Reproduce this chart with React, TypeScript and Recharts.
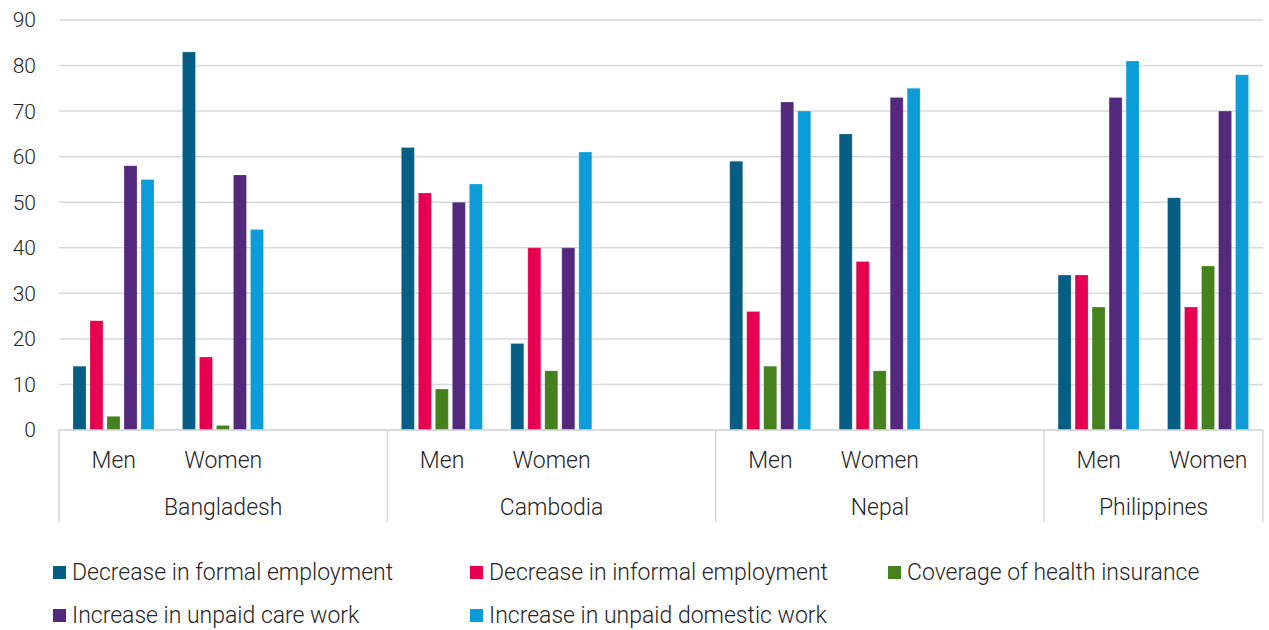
import { Bar, BarChart, XAxis, YAxis, CartesianGrid, Legend } from "recharts"

const countries = ["Bangladesh", "Cambodia", "Nepal", "Philippines"]
const sexes = ["Men", "Women"]

// order: Bangladesh M/W, Cambodia M/W, Nepal M/W, Philippines M/W
const formal = [14, 83, 62, 19, 59, 65, 34, 51]
const informal = [24, 16, 52, 40, 26, 37, 34, 27]
const health = [3, 1, 9, 13, 14, 13, 27, 36]
const care = [58, 56, 50, 40, 72, 73, 73, 70]
const domestic = [55, 44, 54, 61, 70, 75, 81, 78]

const yTicks = [0, 10, 20, 30, 40, 50, 60, 70, 80, 90]

const SERIES = [
  { key: "formal", name: "Decrease in formal employment", color: "#075e84" },
  { key: "informal", name: "Decrease in informal employment", color: "#e6004f" },
  { key: "health", name: "Coverage of health insurance", color: "#45821e" },
  { key: "care", name: "Increase in unpaid care work", color: "#53297c" },
  { key: "domestic", name: "Increase in unpaid domestic work", color: "#0c9dd9" },
]

type Row = {
  sub: string
  country: string
  groupStart: boolean
  groupSize: number
  formal: number | null
  informal: number | null
  health: number | null
  care: number | null
  domestic: number | null
}

// each country gets Men, Women and an empty slot (except the last one)
const rows: Row[] = []
countries.forEach((country, ci) => {
  const isLast = ci === countries.length - 1
  const size = isLast ? 2 : 3
  sexes.forEach((sub, si) => {
    const k = ci * 2 + si
    rows.push({
      sub,
      country,
      groupStart: si === 0,
      groupSize: size,
      formal: formal[k],
      informal: informal[k],
      health: health[k],
      care: care[k],
      domestic: domestic[k],
    })
  })
  if (!isLast) {
    rows.push({
      sub: "",
      country,
      groupStart: false,
      groupSize: size,
      formal: null,
      informal: null,
      health: null,
      care: null,
      domestic: null,
    })
  }
})

const W = 1269
const H = 630
const Y_AXIS_W = 59
const MARGIN = { top: 20, right: 6, left: 0, bottom: 0 }
const PLOT_W = W - Y_AXIS_W - MARGIN.right
const TEXT = "#262626"
const GRID = "#d9d9d9"
const FONT = "Roboto, sans-serif"
const LABEL_SIZE = 23

function XTick(props: any) {
  const { x, y, payload } = props
  const i = payload.index
  const row = rows[i]
  const band = PLOT_W / rows.length
  const lineH = 92
  return (
    <g>
      {row.sub && (
        <text x={x} y={y + 38} textAnchor="middle" fill={TEXT} fontSize={LABEL_SIZE} fontWeight={300} fontFamily={FONT}>
          {row.sub}
        </text>
      )}
      {row.groupStart && (
        <>
          <line x1={x - band / 2} x2={x - band / 2} y1={y} y2={y + lineH} stroke={GRID} strokeWidth={1.5} />
          <text
            x={x + ((row.groupSize - 1) * band) / 2}
            y={y + 85}
            textAnchor="middle"
            fill={TEXT}
            fontSize={LABEL_SIZE}
            fontWeight={300}
            fontFamily={FONT}
          >
            {row.country}
          </text>
        </>
      )}
      {i === rows.length - 1 && (
        <line x1={x + band / 2} x2={x + band / 2} y1={y} y2={y + lineH} stroke={GRID} strokeWidth={1.5} />
      )}
    </g>
  )
}

function LegendContent() {
  return (
    <div
      style={{
        display: "grid",
        gridTemplateColumns: "417px 418px 360px",
        rowGap: 17,
        fontFamily: FONT,
        fontWeight: 300,
        fontSize: LABEL_SIZE,
        color: TEXT,
      }}
    >
      {SERIES.map((s) => (
        <div key={s.key} style={{ display: "flex", alignItems: "center", height: 26, whiteSpace: "nowrap" }}>
          <span style={{ width: 13, height: 13, background: s.color, marginRight: 6, display: "inline-block" }} />
          <span>{s.name}</span>
        </div>
      ))}
    </div>
  )
}

export default function App() {
  return (
    <div style={{ position: "absolute", left: 0, top: 0, width: W, height: H, background: "#fff" }}>
      <BarChart width={W} height={H} data={rows} margin={MARGIN} barSize={13} barGap={4}>
        <CartesianGrid vertical={false} stroke={GRID} strokeWidth={1.5} />
        <XAxis
          dataKey="sub"
          height={200}
          interval={0}
          tickLine={false}
          tickSize={0}
          tickMargin={0}
          axisLine={{ stroke: GRID, strokeWidth: 1.5 }}
          tick={<XTick />}
        />
        <YAxis
          width={Y_AXIS_W}
          domain={[0, 90]}
          ticks={yTicks}
          axisLine={false}
          tickLine={false}
          tickSize={0}
          tickMargin={23}
          tick={{ fill: TEXT, fontSize: 21, fontWeight: 300, fontFamily: FONT }}
        />
        <Legend
          layout="horizontal"
          verticalAlign="middle"
          align="center"
          wrapperStyle={{ top: 559, left: 53, width: 1200 }}
          content={<LegendContent />}
        />
        {SERIES.map((s) => (
          <Bar
            key={s.key}
            dataKey={s.key}
            name={s.name}
            fill={s.color}
            stroke="#ffffff"
            strokeOpacity={0.35}
            strokeWidth={0.6}
            isAnimationActive={false}
          />
        ))}
      </BarChart>
    </div>
  )
}
